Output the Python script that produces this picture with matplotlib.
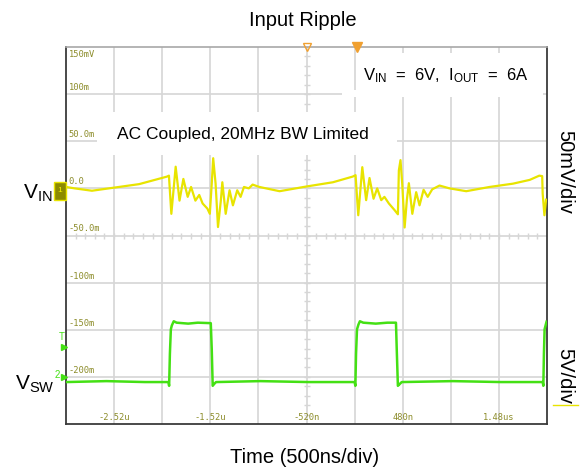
import numpy as np
import matplotlib
matplotlib.use("Agg")
import matplotlib.pyplot as plt
from matplotlib.patches import Rectangle
from matplotlib.lines import Line2D

plt.rcParams['font.family'] = ['Liberation Sans', 'DejaVu Sans']
plt.rcParams['mathtext.fontset'] = 'custom'
plt.rcParams['mathtext.rm'] = 'Liberation Sans'
plt.rcParams['mathtext.it'] = 'Liberation Sans:italic'

# ---------------------------------------------------------------------------
# scope data
# ---------------------------------------------------------------------------
# channel 1: input ripple, mV (AC coupled), time in us
vin_t = [-3.02, -2.93, -2.75, -2.54, -2.26, -1.97, -1.95, -1.925, -1.88, -1.84,
         -1.80, -1.755, -1.72, -1.675, -1.635, -1.60, -1.55, -1.525, -1.505, -1.49,
         -1.465, -1.44, -1.41, -1.395, -1.36, -1.32, -1.285, -1.24, -1.205, -1.17,
         -1.12, -1.08, -1.01, -0.80, -0.52, -0.245, -0.04, -0.01, 0.018, 0.06,
         0.10, 0.135, 0.177, 0.215, 0.257, 0.29, 0.336, 0.395, 0.43, 0.44,
         0.457, 0.475, 0.50, 0.523, 0.544, 0.58, 0.62, 0.655, 0.697, 0.74,
         0.787, 0.863, 0.967, 1.14, 1.383, 1.626, 1.80, 1.90, 1.93, 1.935,
         1.953, 1.97]
vin_mv = [1.5, 0, -2.5, 0.5, 4.5, 12.5, 13.5, -27, 23, -13,
          10, -9, 1.5, -13, -7, -16, -21.5, -27, 5, 32,
          5, -41, -12.5, 6.5, -27, -2, -18, -2, -9, 1.5,
          0, 4, 1.5, -3, 2, 6.5, 12.5, 14, -28.5, 22.5,
          -12.5, 11, -11, 0, -12.5, -9, -16, -23, -27.5, 19,
          30, 5, -41.5, -12.5, 5.5, -27, -4, -18, -1.5, -9,
          -1, 3, 0, -3, 1.5, 5, 9, 13.5, 13, -5.5,
          -28.5, -12]

# channel 2: switch node, V
vsw_t = [-3.02, -2.60, -2.20, -1.955, -1.948, -1.94, -1.93, -1.92, -1.90, -1.87,
         -1.75, -1.65, -1.515, -1.505, -1.495, -1.48, -1.46, -1.00, -0.50, -0.02,
         -0.012, -0.005, 0.005, 0.02, 0.035, 0.07, 0.20, 0.32, 0.41, 0.418,
         0.43, 0.45, 0.47, 1.00, 1.50, 1.935, 1.942, 1.948, 1.955, 1.975]
vsw_v = [0, 0.1, 0, 0, -0.4, 3.0, 5.6, 6.0, 6.45, 6.3,
         6.2, 6.3, 6.25, 3.5, -0.4, -0.2, 0, 0.1, 0, 0,
         -0.4, 3.0, 5.6, 6.1, 6.45, 6.3, 6.2, 6.3, 6.3, 3.5,
         -0.4, -0.2, 0, 0.1, 0, 0, -0.4, 3.0, 5.6, 6.4]

time_ticks = [-2.52, -1.52, -0.52, 0.48, 1.48]
time_labels = ['-2.52u', '-1.52u', '-520n', '480n', '1.48us']
volt_ticks = [150, 100, 50, 0, -50, -100, -150, -200]
volt_labels = ['150mV', '100m', '50.0m', '0.0', '-50.0m', '-100m', '-150m', '-200m']

CH2_OFFSET = -205.5      # ch2 ground position in ch1 mV units
CH2_SCALE = 10.0         # 5 V/div on a 50 mV/div grid

YELLOW = '#e8e400'
GREEN = '#44e014'
LABEL = '#8c8c2a'
GRID = '#d6d6d6'

fig = plt.figure(figsize=(5.88, 4.71), dpi=100)
ax = fig.add_axes([66 / 588, 1 - 424 / 471, 481 / 588, 377 / 471])
ax.set_xlim(-3.02, 1.98)
ax.set_ylim(-250, 150)

# grid
for x in np.arange(-2.52, 1.9, 0.5):
    ax.axvline(x, color=GRID, lw=1.2, zorder=1)
for y in np.arange(-200, 101, 50):
    ax.axhline(y, color=GRID, lw=1.2, zorder=1)
# minor ticks on the centre crosshair
ax.plot(np.arange(-2.92, 1.95, 0.1), np.full(49, -50), ls='none', marker='|',
        ms=4, color=GRID, mew=1.0, zorder=1)
ax.plot(np.full(39, -0.52), np.arange(-240, 141, 10), ls='none', marker='_',
        ms=5, color=GRID, mew=1.0, zorder=1)

ax.set_xticks([]); ax.set_yticks([])
for s in ['left', 'right', 'bottom']:
    ax.spines[s].set_color('#3a3a3a'); ax.spines[s].set_linewidth(1.3)
ax.spines['top'].set_color('#a8a8a8'); ax.spines['top'].set_linewidth(1.2)

# white annotation patches over the grid
def px_rect(x0, y0, x1, y1):
    ax.add_patch(Rectangle(((x0 - 66) / 481, (424 - y1) / 377), (x1 - x0) / 481,
                           (y1 - y0) / 377, transform=ax.transAxes, fc='white',
                           ec='none', zorder=2))
px_rect(360, 53, 543, 97)
px_rect(342, 90, 543, 97)
px_rect(97, 112, 397, 155)

# scope graticule labels
for v, lab in zip(volt_ticks, volt_labels):
    if v == 150:
        ax.text(0.006, 0.992, lab, transform=ax.transAxes, ha='left', va='top',
                family='DejaVu Sans Mono', fontsize=6.3, color=LABEL, zorder=3)
    else:
        ax.annotate(lab, (-3.02, v), xytext=(2, 1.5), textcoords='offset points',
                    ha='left', va='bottom', family='DejaVu Sans Mono',
                    fontsize=6.3, color=LABEL, zorder=3)
for t, lab in zip(time_ticks, time_labels):
    ax.annotate(lab, (t, -250), xytext=(0, 1.5), textcoords='offset points',
                ha='center', va='bottom', family='DejaVu Sans Mono',
                fontsize=6.3, color=LABEL, zorder=3)

# traces
ax.plot(vin_t, vin_mv, color=YELLOW, lw=1.6, zorder=4)
ax.plot(vsw_t, CH2_OFFSET + CH2_SCALE * np.array(vsw_v), color=GREEN, lw=1.8, zorder=4)

# trigger markers on top edge
ax.plot([0], [150], marker='v', ms=7, color='#f0a030', clip_on=False, zorder=5)
ax.plot([-0.52], [150], marker='v', ms=6, mfc='none', mec='#f0a030', mew=1.0,
        clip_on=False, zorder=5)

# in-plot annotations
ax.text((117.3 - 66) / 481, (424 - 139.3) / 377, 'AC Coupled, 20MHz BW Limited',
        transform=ax.transAxes, fontsize=12.5, va='baseline', ha='left', zorder=3)
ax.text((363 - 66) / 481, (424 - 80.7) / 377,
        r'V$_{\mathrm{IN}}$  =  6V,  I$_{\mathrm{OUT}}$  =  6A',
        transform=ax.transAxes, fontsize=12, va='baseline', ha='left', zorder=3)

# outer labels
fig.text(303 / 588, 1 - 26 / 471, 'Input Ripple', ha='center', va='baseline', fontsize=14.5)
fig.text(305 / 588, 1 - 463.3 / 471, 'Time (500ns/div)', ha='center', va='baseline',
         fontsize=14.5)
fig.text(22.7 / 588, 1 - 198.3 / 471, r'V$_{\mathrm{IN}}$', ha='left', va='baseline',
         fontsize=15)
fig.text(15 / 588, 1 - 390 / 471, r'V$_{\mathrm{SW}}$', ha='left', va='baseline',
         fontsize=15)
fig.text(565 / 588, 1 - 172 / 471, '50mV/div', rotation=270, ha='center',
         va='center', fontsize=14.5)
fig.text(565 / 588, 1 - 376 / 471, '5V/div', rotation=270, ha='center',
         va='center', fontsize=14.5)
fig.add_artist(Line2D([553 / 588, 578 / 588], [1 - 405 / 471, 1 - 405 / 471],
                      color=YELLOW, lw=1.0))

# channel markers on the left edge
fig.add_artist(Rectangle((54 / 588, 1 - 200 / 471), 12 / 588, 18 / 471,
                         fc='#8c8a00', ec=YELLOW, lw=1.0))
fig.text(60 / 588, 1 - 191 / 471, '1', ha='center', va='center', fontsize=6,
         color='#f4f000')
fig.text(62 / 588, 1 - 337 / 471, 'T', ha='center', va='center', fontsize=7,
         color=GREEN)
fig.add_artist(Line2D([63.5 / 588], [1 - 347 / 471], marker='>', ms=5, color=GREEN,
                      ls='none'))
fig.text(57 / 588, 1 - 375 / 471, '2', ha='center', va='center', fontsize=7,
         color=GREEN)
fig.add_artist(Line2D([63.5 / 588], [1 - 377 / 471], marker='>', ms=5, color=GREEN,
                      ls='none'))

fig.savefig('out.png', dpi=100)
